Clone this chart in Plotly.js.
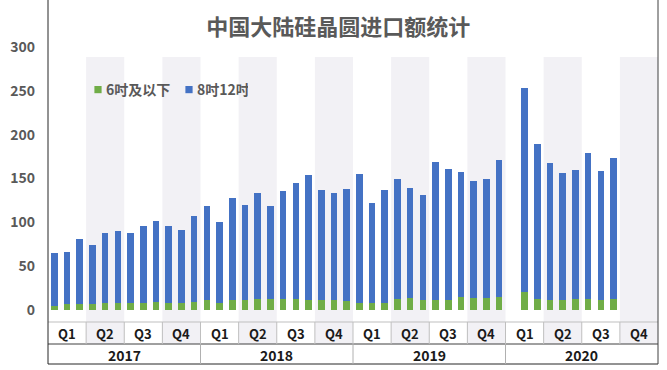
<!DOCTYPE html>
<html>
<head>
<meta charset="utf-8">
<script src="https://cdn.plot.ly/plotly-3.0.1.min.js"></script>
<style>html,body{margin:0;padding:0;background:#fff;}#chart{width:667px;height:370px;}</style>
</head>
<body>
<div id="chart"></div>
<script>
// ---- data ----
const years = ['2017', '2018', '2019', '2020'];
const quarters = ['Q1', 'Q2', 'Q3', 'Q4'];
const monthNames = ['01','02','03','04','05','06','07','08','09','10','11','12'];
const months = years.flatMap(y => monthNames.map(m => y + '-' + m));

// 6吋及以下 (Jan 2017 – Sep 2020; Jan 2020 not reported separately)
const green6 = [
  4.5, 7, 6.5, 7, 8, 7.5, 7.5, 7.5, 9.5, 8, 7.5, 9,
  11, 8, 11, 11.5, 12, 12, 12.5, 12, 11, 11, 11, 10.5,
  8, 7.5, 8.5, 13, 13.5, 11, 11.5, 11, 14.5, 13.5, 14, 14.5,
  null, 20, 12.5, 11, 11, 13, 12, 11.5, 12
];
// 8吋12吋
const blue812 = [
  60.5, 59.3, 74.9, 67.2, 79.5, 82.2, 80.3, 87.9, 91.6, 87.8, 83.4, 98.2,
  107.9, 92, 116.2, 107.8, 122, 106.9, 123.1, 133, 143.5, 125.7, 122.7, 127,
  146.9, 114.1, 128.2, 136.6, 125.9, 120.4, 157.8, 150, 143.4, 133.1, 136, 156.7,
  null, 233.4, 176.5, 156.4, 145.8, 146.4, 167.5, 147.2, 161
];
const yTicks = [0, 50, 100, 150, 200, 250, 300];

// ---- layout helpers ----
const W = 667, H = 370;
const M = {l: 48, r: 9, t: 47, b: 48};
const plotH = H - M.t - M.b;
const py = px => (H - M.b - px) / plotH;   // pixel y -> paper y

const FONT = '"Noto Sans CJK SC", "Noto Sans", sans-serif';
const shapes = [];
const annotations = [];
const nQ = years.length * quarters.length;

// alternating quarter bands (Q2, Q4) spanning plot + quarter row
for (let k = 0; k < nQ; k++) {
  if (k % 2 === 1) {
    shapes.push({type: 'rect', layer: 'below', xref: 'x', yref: 'paper',
      x0: 3 * k - 0.5, x1: 3 * k + 2.5, y0: py(344), y1: py(57),
      fillcolor: '#f2f1f5', line: {width: 0}});
  }
}
// table lines
const line = (x0, x1, y0, y1, color, xref) => shapes.push({type: 'line', layer: 'above',
  xref: xref || 'paper', yref: 'paper', x0, x1, y0, y1, line: {color, width: 1}});
line(0, 1, py(322), py(322), '#bfbfbf');
line(0, 1, py(344), py(344), '#404040');
line(0, 1, py(364), py(364), '#262626');
line(0, 0, py(364), py(0), '#262626');
line(1, 1, py(364), py(0), '#404040');
for (let k = 1; k < nQ; k++) line(3 * k - 0.5, 3 * k - 0.5, py(344), py(322), '#bfbfbf', 'x');
for (let k = 1; k < years.length; k++) line(12 * k - 0.5, 12 * k - 0.5, py(364), py(344), '#b0b0b0', 'x');

// quarter and year labels
years.forEach((yr, yi) => {
  quarters.forEach((q, qi) => {
    annotations.push({text: q, xref: 'x', yref: 'paper', x: 12 * yi + 3 * qi + 1, y: py(333),
      showarrow: false, xanchor: 'center', yanchor: 'middle',
      font: {family: FONT, size: 13, weight: 'bold', color: '#1a1a1a'}});
  });
  annotations.push({text: yr, xref: 'x', yref: 'paper', x: 12 * yi + 5.5, y: py(354.5),
    showarrow: false, xanchor: 'center', yanchor: 'middle',
    font: {family: FONT, size: 14, weight: 'bold', color: '#1a1a1a'}});
});

const traces = [
  {type: 'bar', name: '6吋及以下', x: months, y: green6, marker: {color: '#70ad47'}, hoverinfo: 'skip'},
  {type: 'bar', name: '8吋12吋', x: months, y: blue812, marker: {color: '#4472c4'}, hoverinfo: 'skip'}
];

const layout = {
  width: W, height: H,
  margin: M,
  paper_bgcolor: '#ffffff', plot_bgcolor: 'rgba(0,0,0,0)',
  font: {family: FONT, color: '#595959'},
  barmode: 'stack', bargap: 0.48,
  title: {text: '中国大陆硅晶圆进口额统计', xref: 'container', yref: 'container',
    x: 0.507, y: 1 - 27 / H, xanchor: 'center', yanchor: 'middle',
    font: {family: FONT, size: 22, weight: 'bold', color: '#595959'}},
  xaxis: {type: 'category', categoryorder: 'array', categoryarray: months,
    range: [-0.5, months.length - 0.5], showticklabels: false, ticks: '',
    showgrid: false, zeroline: false, showline: false, fixedrange: true},
  yaxis: {range: [-13.7, 300], tickvals: yTicks, ticktext: yTicks.map(String),
    showgrid: false, zeroline: false, showline: false, ticks: '',
    ticklabelstandoff: 12,
    tickfont: {family: FONT, size: 14, weight: 'bold', color: '#595959'}, fixedrange: true},
  showlegend: true,
  legend: {orientation: 'h', traceorder: 'normal', x: (66 - M.l) / (W - M.l - M.r), xanchor: 'left',
    y: py(90), yanchor: 'middle', bgcolor: 'rgba(0,0,0,0)', entrywidth: 46, entrywidthmode: 'pixels',
    font: {family: FONT, size: 14, weight: 'bold', color: '#595959'}, itemclick: false, itemdoubleclick: false},
  shapes, annotations
};

Plotly.newPlot('chart', traces, layout, {displayModeBar: false, staticPlot: true}).then(gd => {
  // small square legend keys placed just before their text, as in the reference
  gd.querySelectorAll('.legend .legendpoints path').forEach(p => {
    p.setAttribute('transform', 'translate(32,0) scale(0.6)');
  });
});
</script>
</body>
</html>
